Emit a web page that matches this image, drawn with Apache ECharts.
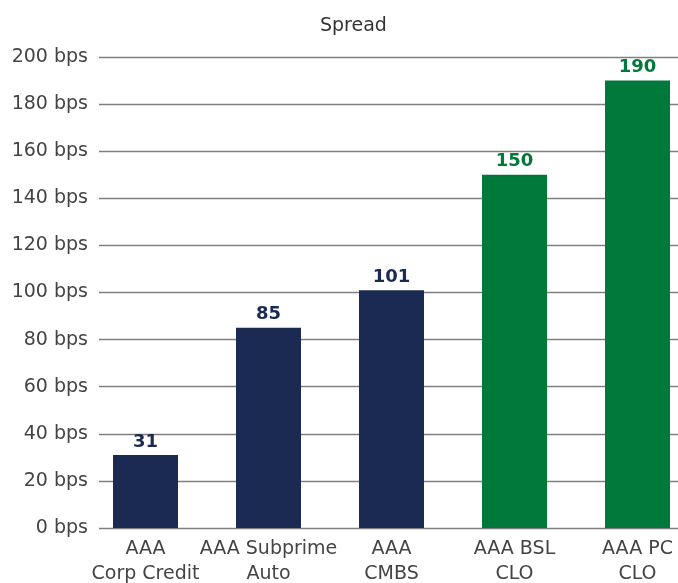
<!DOCTYPE html>
<html><head><meta charset="utf-8">
<script src="https://cdn.jsdelivr.net/npm/echarts@6/dist/echarts.min.js"></script>
<style>html,body{margin:0;padding:0;background:#fff;overflow:hidden}#c{width:678px;height:583px}</style>
</head><body><div id="c"></div>
<script>
const categories = ['AAA\nCorp Credit', 'AAA Subprime\nAuto', 'AAA\nCMBS', 'AAA BSL\nCLO', 'AAA PC\nCLO'];
const spreads = [31, 85, 101, 150, 190];
const barColors = ['#1b2a52', '#1b2a52', '#1b2a52', '#00793a', '#00793a'];
const yMin = 0, yMax = 200, yStep = 20;
const FONT = '"DejaVu Sans", sans-serif';

const chart = echarts.init(document.getElementById('c'), null, {renderer: 'canvas'});
chart.setOption({
  animation: false,
  title: {text: 'Spread', left: 315, top: 12, textStyle: {fontFamily: FONT, fontSize: 19, fontWeight: 'normal', color: '#333'}},
  grid: [
    {left: 99, right: 0, top: 57, bottom: 55, containLabel: false, outerBoundsMode: 'none'},
    {left: 84, width: 615, top: 57, bottom: 55, containLabel: false, outerBoundsMode: 'none'}
  ],
  xAxis: [
    {gridIndex: 0, type: 'value', show: false, min: 0, max: 1},
    {gridIndex: 1, type: 'category', data: categories,
     axisLine: {show: false}, axisTick: {show: false},
     axisLabel: {fontFamily: FONT, fontSize: 19, color: '#444', lineHeight: 25, margin: 9, interval: 0}}
  ],
  yAxis: [
    {gridIndex: 0, type: 'value', min: yMin, max: yMax, interval: yStep,
     axisLine: {show: false}, axisTick: {show: false},
     axisLabel: {fontFamily: FONT, fontSize: 19, color: '#444', margin: 11, formatter: v => v + ' bps'},
     splitLine: {lineStyle: {color: '#808080', width: 1.3}}},
    {gridIndex: 1, type: 'value', min: yMin, max: yMax, interval: yStep, show: false, splitLine: {show: false}}
  ],
  series: [{
    type: 'bar', xAxisIndex: 1, yAxisIndex: 1,
    barWidth: 65,
    data: spreads.map((v, i) => ({value: v, itemStyle: {color: barColors[i]}, label: {color: barColors[i]}})),
    label: {show: true, position: 'top', distance: 4, fontFamily: FONT, fontSize: 18, fontWeight: 'bold'},
    z: 3
  }]
});
</script></body></html>
